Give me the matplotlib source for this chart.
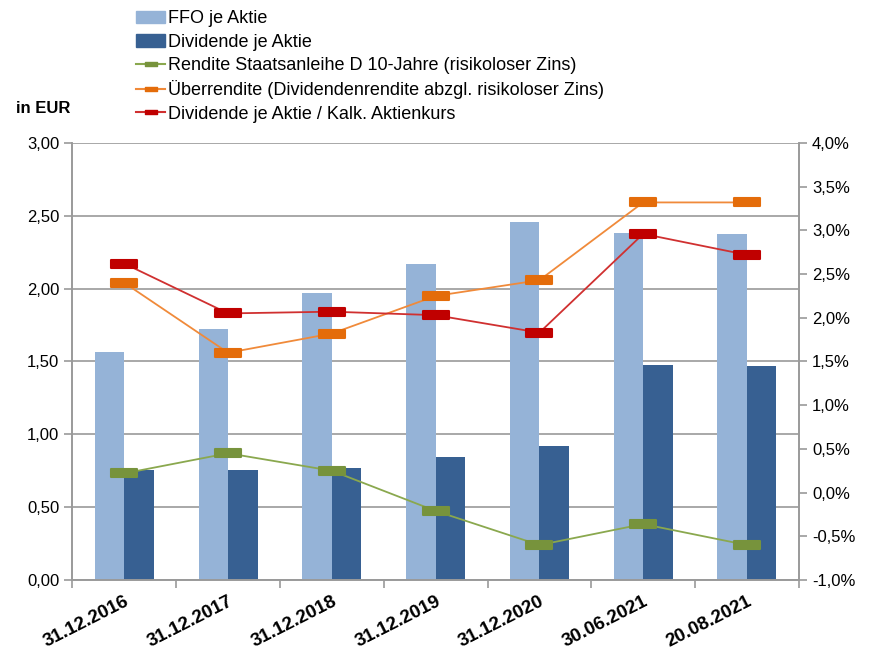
import numpy as np
import matplotlib
matplotlib.use('Agg')
import matplotlib.pyplot as plt
from matplotlib.path import Path
from matplotlib.patches import Patch
from matplotlib.lines import Line2D
from matplotlib.ticker import FuncFormatter

plt.rcParams['font.family'] = ['Liberation Sans Narrow', 'Liberation Sans', 'DejaVu Sans']

#%% Data
dates = ['31.12.2016', '31.12.2017', '31.12.2018', '31.12.2019',
         '31.12.2020', '30.06.2021', '20.08.2021']
ffo = [1.565, 1.72, 1.97, 2.17, 2.46, 2.38, 2.375]
dividende = [0.755, 0.755, 0.77, 0.845, 0.92, 1.475, 1.47]
rendite_bund = [0.22, 0.45, 0.25, -0.21, -0.60, -0.36, -0.60]
ueberrendite = [2.40, 1.60, 1.82, 2.25, 2.43, 3.32, 3.32]
div_rendite = [2.62, 2.05, 2.07, 2.03, 1.83, 2.96, 2.72]

labels = ['FFO je Aktie', 'Dividende je Aktie',
          'Rendite Staatsanleihe D 10-Jahre (risikoloser Zins)',
          'Überrendite (Dividendenrendite abzgl. risikoloser Zins)',
          'Dividende je Aktie / Kalk. Aktienkurs']

c_ffo = '#95B3D7'
c_div = '#376092'
c_green, c_green_l = '#77933C', '#8AA84E'
c_orange, c_orange_l = '#E46C0A', '#F08A3A'
c_red, c_red_l = '#C00000', '#D03030'
c_grid = '#9A9A9A'

# flat rectangular marker
dash = Path([(-1, -0.32), (1, -0.32), (1, 0.32), (-1, 0.32), (-1, -0.32)],
            [Path.MOVETO, Path.LINETO, Path.LINETO, Path.LINETO, Path.CLOSEPOLY])

#%% Figure
fig = plt.figure(figsize=(8.73, 6.55), dpi=100)
ax = fig.add_axes([0.083, 0.1145, 0.832, 0.6672])
ax2 = ax.twinx()

x = np.arange(len(dates))
w = 0.285
ax.bar(x - w / 2, ffo, w, color=c_ffo, zorder=2)
ax.bar(x + w / 2, dividende, w, color=c_div, zorder=2)

ax.set_xlim(-0.5, len(dates) - 0.5)
ax.set_ylim(0, 3.0)
ax.set_yticks(np.arange(0, 3.01, 0.5))
ax.yaxis.set_major_formatter(FuncFormatter(lambda v, p: f'{v:.2f}'.replace('.', ',')))
ax.grid(axis='y', color=c_grid, lw=1.2, zorder=0)
ax.set_axisbelow(True)

ax.set_xticks(np.arange(-0.5, len(dates), 1.0))
ax.set_xticklabels([])
ax.set_xticks(x, minor=True)
ax.set_xticklabels(dates, minor=True, rotation=27, ha='right', rotation_mode='anchor',
                   fontsize=13.5, fontweight='bold')
ax.tick_params(axis='x', which='minor', length=0, pad=9)
ax.tick_params(axis='x', which='major', length=6, color=c_grid, width=1.2)
ax.tick_params(axis='y', length=6, color=c_grid, width=1.2, labelsize=12)

for a in (ax, ax2):
    a.spines['top'].set_visible(False)
    for s in ('left', 'right', 'bottom'):
        a.spines[s].set_color(c_grid)
        a.spines[s].set_linewidth(1.2)

series = [(rendite_bund, c_green, c_green_l),
          (ueberrendite, c_orange, c_orange_l),
          (div_rendite, c_red, c_red_l)]
for vals, cm, cl in series:
    ax2.plot(x, vals, color=cl, lw=1.3, zorder=3)
    ax2.plot(x, vals, ls='none', marker=dash, ms=19, color=cm, mec=cm, mew=1.5,
             zorder=4)

ax2.set_ylim(-1.0, 4.0)
ax2.set_yticks(np.arange(-1.0, 4.01, 0.5))
ax2.yaxis.set_major_formatter(FuncFormatter(lambda v, p: f'{v:.1f}%'.replace('.', ',')))
ax2.tick_params(axis='y', length=6, color=c_grid, width=1.2, labelsize=12)

fig.text(0.018, 0.828, 'in EUR', fontsize=12, fontweight='bold')

handles = [Patch(color=c_ffo), Patch(color=c_div)]
for vals, cm, cl in series:
    handles.append(Line2D([0], [0], color=cl, lw=1.5, marker=dash, ms=9, mfc=cm, mec=cm))
fig.legend(handles, labels, loc='upper left', bbox_to_anchor=(0.148, 0.995),
           frameon=False, fontsize=13, handlelength=1.6, handletextpad=0.15,
           labelspacing=0.35, borderaxespad=0)

fig.savefig('out.png', dpi=100)
